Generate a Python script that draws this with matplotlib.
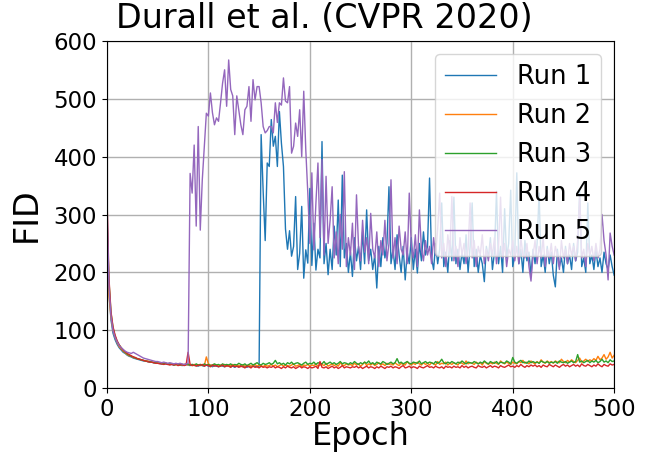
import matplotlib
matplotlib.use("Agg")
import matplotlib.pyplot as plt

epochs = list(range(0, 501, 2))

run1 = [
    280, 165, 118, 95, 84, 76, 70, 66, 62, 60,
    57, 55, 54, 52, 51, 50, 49, 48, 47, 47,
    46, 45, 45, 44, 44, 43, 43, 42, 43, 42,
    41, 42, 41, 40, 41, 40, 41, 39, 40, 41,
    40, 39, 41, 40, 39, 38, 40, 39, 38, 40,
    38, 39, 37, 39, 38, 37, 39, 38, 37, 38,
    39, 37, 38, 36, 38, 37, 39, 37, 38, 36,
    38, 37, 39, 38, 37, 38, 438, 340, 255, 389,
    383, 464, 418, 435, 383, 478, 423, 383, 275, 240,
    272, 228, 245, 331, 205, 233, 314, 190, 239, 216,
    345, 212, 285, 204, 240, 225, 426, 215, 250, 196,
    240, 205, 280, 230, 325, 210, 368, 225, 250, 200,
    235, 193, 260, 220, 245, 205, 270, 215, 308, 220,
    240, 205, 230, 173, 245, 210, 260, 225, 250, 348,
    215, 240, 205, 265, 230, 200, 245, 187, 235, 215,
    260, 205, 240, 199, 250, 220, 270, 230, 245, 363,
    225, 205, 250, 215, 240, 320, 210, 235, 200, 255,
    220, 330, 215, 240, 205, 235, 215, 265, 200, 245,
    320, 210, 240, 200, 230, 215, 184, 245, 225, 260,
    205, 235, 340, 215, 245, 200, 310, 225, 250, 342,
    210, 230, 372, 215, 240, 200, 255, 220, 235, 195,
    240, 215, 250, 337, 210, 230, 200, 245, 215, 235,
    195, 175, 240, 210, 225, 200, 245, 215, 230, 205,
    250, 220, 235, 342, 210, 225, 200, 320, 215, 230,
    205, 240, 210, 225, 200, 235, 215, 205, 230, 210,
    195,
]

run2 = [
    250, 160, 122, 100, 88, 79, 72, 68, 64, 61,
    58, 56, 55, 53, 52, 51, 50, 49, 48, 47,
    47, 46, 45, 45, 44, 44, 43, 43, 42, 43,
    42, 41, 42, 41, 40, 42, 41, 40, 41, 42,
    40, 41, 39, 41, 40, 39, 41, 40, 39, 54,
    42, 40, 39, 41, 40, 38, 40, 39, 41, 38,
    40, 39, 41, 38, 40, 39, 37, 40, 38, 39,
    40, 38, 39, 41, 38, 40, 39, 37, 40, 38,
    39, 41, 38, 40, 37, 39, 41, 38, 40, 39,
    38, 40, 42, 38, 39, 41, 37, 40, 39, 41,
    38, 40, 39, 42, 38, 40, 41, 39, 43, 38,
    40, 42, 39, 41, 38, 44, 40, 39, 42, 40,
    41, 39, 43, 40, 42, 38, 41, 45, 39, 42,
    40, 43, 39, 41, 44, 40, 42, 39, 43, 41,
    42, 40, 44, 41, 39, 43, 41, 40, 46, 42,
    40, 43, 41, 45, 42, 40, 44, 41, 43, 40,
    44, 42, 40, 46, 41, 43, 42, 45, 40, 43,
    41, 44, 42, 40, 45, 43, 41, 47, 42, 44,
    43, 41, 45, 42, 44, 40, 46, 43, 41, 44,
    42, 45, 43, 41, 47, 44, 42, 45, 43, 41,
    45, 43, 42, 46, 44, 48, 43, 45, 42, 47,
    44, 42, 46, 43, 49, 45, 43, 47, 44, 46,
    43, 47, 45, 44, 50, 46, 44, 48, 45, 49,
    46, 44, 48, 52, 45, 47, 50, 46, 49, 47,
    51, 48, 55, 49, 52, 58, 50, 54, 62, 52,
    57,
]

run3 = [
    300, 185, 130, 104, 90, 81, 75, 70, 66, 62,
    59, 57, 55, 54, 52, 51, 50, 49, 48, 47,
    46, 46, 45, 44, 44, 43, 43, 42, 42, 43,
    42, 41, 42, 40, 41, 42, 40, 41, 40, 41,
    42, 40, 41, 39, 42, 40, 41, 39, 42, 40,
    41, 39, 40, 42, 40, 41, 39, 42, 40, 41,
    40, 42, 39, 41, 40, 43, 41, 40, 42, 39,
    41, 43, 40, 42, 44, 41, 40, 43, 41, 42,
    44, 41, 43, 48, 42, 44, 41, 43, 40, 44,
    42, 45, 41, 43, 44, 42, 40, 43, 45, 41,
    43, 42, 45, 41, 44, 43, 42, 46, 41, 43,
    45, 42, 44, 41, 43, 46, 42, 44, 43, 41,
    44, 42, 46, 43, 41, 44, 42, 45, 43, 47,
    42, 44, 41, 45, 43, 42, 46, 44, 41, 43,
    45, 42, 44, 51, 43, 45, 42, 44, 46, 43,
    42, 45, 44, 43, 47, 42, 44, 46, 43, 45,
    44, 42, 46, 43, 45, 50, 44, 42, 45, 43,
    46, 44, 42, 45, 43, 47, 44, 42, 45, 44,
    43, 46, 44, 42, 45, 43, 47, 44, 42, 46,
    44, 43, 46, 42, 45, 44, 43, 47, 45, 42,
    53, 45, 43, 46, 48, 44, 45, 43, 47, 44,
    46, 44, 45, 43, 47, 45, 44, 46, 43, 45,
    44, 46, 43, 47, 45, 44, 46, 43, 45, 47,
    44, 46, 58, 45, 47, 44, 46, 48, 44, 47,
    45, 48, 44, 46, 50, 45, 47, 44, 49, 46,
    47,
]

run4 = [
    335, 190, 132, 106, 92, 82, 75, 70, 66, 63,
    60, 58, 56, 54, 53, 51, 50, 49, 48, 47,
    46, 45, 45, 44, 43, 43, 42, 42, 41, 42,
    41, 40, 41, 40, 42, 39, 40, 41, 39, 40,
    62, 41, 39, 40, 38, 40, 39, 41, 38, 40,
    39, 37, 40, 38, 39, 37, 38, 40, 37, 39,
    38, 36, 39, 37, 38, 36, 38, 37, 35, 38,
    37, 35, 38, 36, 37, 35, 38, 36, 37, 35,
    37, 36, 38, 35, 37, 36, 34, 37, 35, 38,
    36, 35, 37, 34, 36, 38, 35, 37, 36, 34,
    37, 35, 36, 38, 34, 46, 36, 35, 37, 34,
    36, 38, 35, 37, 34, 36, 39, 35, 37, 36,
    35, 37, 36, 38, 35, 37, 34, 36, 38, 35,
    37, 36, 34, 37, 35, 38, 36, 34, 37, 36,
    38, 35, 37, 36, 34, 37, 39, 35, 36, 38,
    35, 37, 36, 34, 38, 36, 35, 37, 39, 36,
    37, 35, 38, 36, 35, 37, 34, 38, 36, 37,
    35, 38, 36, 37, 35, 39, 36, 38, 35, 37,
    38, 36, 35, 39, 37, 36, 38, 35, 37, 39,
    36, 38, 37, 35, 39, 37, 36, 38, 40, 37,
    38, 36, 39, 37, 41, 38, 36, 39, 37, 40,
    38, 40, 37, 39, 36, 40, 38, 37, 41, 39,
    37, 40, 38, 36, 39, 41, 38, 40, 37, 39,
    41, 38, 40, 37, 42, 39, 38, 41, 39, 37,
    40, 38, 42, 39, 37, 41, 39, 38, 42, 40,
    41,
]

run5 = [
    330, 175, 125, 100, 88, 80, 74, 70, 67, 64,
    62, 61, 60, 62, 60, 58, 56, 54, 52, 51,
    50, 49, 48, 47, 46, 46, 45, 44, 45, 44,
    43, 44, 43, 42, 43, 42, 43, 42, 41, 42,
    43, 371, 337, 420, 280, 452, 273, 360, 418, 475,
    470, 510, 476, 455, 467, 461, 493, 527, 550, 487,
    567, 516, 505, 438, 505, 480, 455, 438, 481, 487,
    521, 461, 533, 498, 521, 521, 493, 452, 441, 445,
    452, 452, 441, 493, 459, 493, 489, 536, 496, 493,
    521, 406, 418, 458, 435, 481, 400, 513, 412, 337,
    250, 372, 239, 320, 389, 260, 395, 230, 366, 250,
    290, 348, 225, 270, 215, 300, 240, 374, 210, 260,
    230, 285, 205, 334, 245, 220, 290, 235, 260, 215,
    302, 240, 225, 270, 210, 255, 230, 290, 220, 250,
    360, 225, 260, 215, 280, 240, 230, 270, 215, 337,
    245, 225, 265, 210, 308, 240, 220, 255, 230, 245,
    215, 260, 230, 275, 337, 225, 250, 210, 265, 235,
    331, 220, 245, 210, 260, 230, 250, 215, 240, 320,
    225, 255, 210, 245, 230, 265, 215, 240, 220, 250,
    230, 260, 215, 245, 330, 225, 250, 210, 240, 230,
    255, 220, 245, 215, 260, 230, 225, 250, 210, 185,
    230, 255, 215, 245, 225, 260, 210, 240, 225, 250,
    215, 245, 230, 205, 255, 225, 240, 215, 250, 230,
    245, 220, 255, 330, 225, 240, 210, 250, 230, 245,
    220, 250, 225, 240, 300, 255, 230, 187, 268, 245,
    230,
]

runs = [run1, run2, run3, run4, run5]
labels = ["Run 1", "Run 2", "Run 3", "Run 4", "Run 5"]
colors = ["#1f77b4", "#ff7f0e", "#2ca02c", "#d62728", "#9467bd"]

fig = plt.figure(figsize=(6.52, 4.54), dpi=100)
ax = fig.add_axes([0.164, 0.145, 0.778, 0.765])

for vals, lab, col in zip(runs, labels, colors):
    ax.plot(epochs, vals, color=col, linewidth=1.0, label=lab)

ax.set_xlim(0, 500)
ax.set_ylim(0, 600)
ax.set_xticks([0, 100, 200, 300, 400, 500])
ax.set_yticks([0, 100, 200, 300, 400, 500, 600])
ax.tick_params(labelsize=16.5)
ax.grid(True, color="#b0b0b0", linewidth=1.0)
ax.set_xlabel("Epoch", fontsize=23, labelpad=0)
ax.set_ylabel("FID", fontsize=24, labelpad=8)
fig.text(0.497, 0.995, "Durall et al. (CVPR 2020)", fontsize=24,
         ha="center", va="top")
ax.legend(loc="upper right", fontsize=18.5)

fig.savefig("out.png", dpi=100)
